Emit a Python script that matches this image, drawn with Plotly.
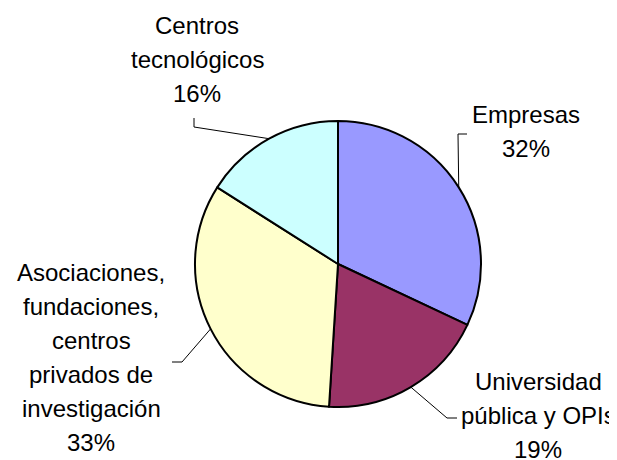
import math
import plotly.graph_objects as go

# ---- data ----
categories = ["Empresas", "Universidad pública y OPIs",
              "Asociaciones, fundaciones, centros privados de investigación",
              "Centros tecnológicos"]
label_lines = [["Empresas"],
               ["Universidad", "pública y OPIs"],
               ["Asociaciones,", "fundaciones,", "centros", "privados de", "investigación"],
               ["Centros", "tecnológicos"]]
values = [32, 19, 33, 16]
colors = ["#9999FF", "#993366", "#FFFFCC", "#CCFFFF"]

# ---- layout settings (pixels, in page coordinates) ----
OFF = 8                      # default page body margin
W, H = 617 - OFF, 460 - OFF  # figure size
cx, cy, R = 338, 264, 143
FS = 24
LINE_H = 34.0
# first-baseline position and centre x of each label block
label_pos = [(526, 123), (538, 390), (91, 281), (197, 34)]
# elbow / end points of leader lines (text side)
leader_text = [[(467, 134), (458, 134)],
               [(457, 418), (447, 418)],
               [(172, 362), (182, 362)],
               [(194, 118), (194, 127)]]

def px(x):
    return (x - OFF) / W

def py(y):
    return 1 - (y - OFF) / H

fig = go.Figure(go.Pie(
    labels=categories, values=values, sort=False, direction="clockwise",
    rotation=0, textinfo="none", hoverinfo="label+percent",
    marker=dict(colors=colors, line=dict(color="black", width=2)),
    domain=dict(x=[px(cx - R), px(cx + R)], y=[py(cy + R), py(cy - R)]),
    showlegend=False,
))

annotations = []
shapes = []
total = sum(values)
cum = 0
for i, v in enumerate(values):
    mid = (cum + v / 2) / total * 2 * math.pi
    cum += v
    ex = cx + R * math.sin(mid)
    ey = cy - R * math.cos(mid)
    pts = leader_text[i] + [(ex, ey)]
    path = "M " + " L ".join(f"{px(x)},{py(y)}" for x, y in pts)
    shapes.append(dict(type="path", xref="paper", yref="paper", path=path,
                       line=dict(color="black", width=1)))
    lines = label_lines[i] + [f"{round(v / total * 100)}%"]
    x0, b0 = label_pos[i]
    for k, t in enumerate(lines):
        base = b0 + k * LINE_H
        annotations.append(dict(
            text=t, x=px(x0), y=py(base - 0.36 * FS), xref="paper", yref="paper",
            xanchor="center", yanchor="middle", showarrow=False, borderpad=0,
            font=dict(family="Liberation Sans, Arial", size=FS, color="black")))

fig.update_layout(
    width=W, height=H, margin=dict(l=0, r=0, t=0, b=0),
    paper_bgcolor="white", plot_bgcolor="white",
    annotations=annotations, shapes=shapes,
)
fig.write_html("out.html")
